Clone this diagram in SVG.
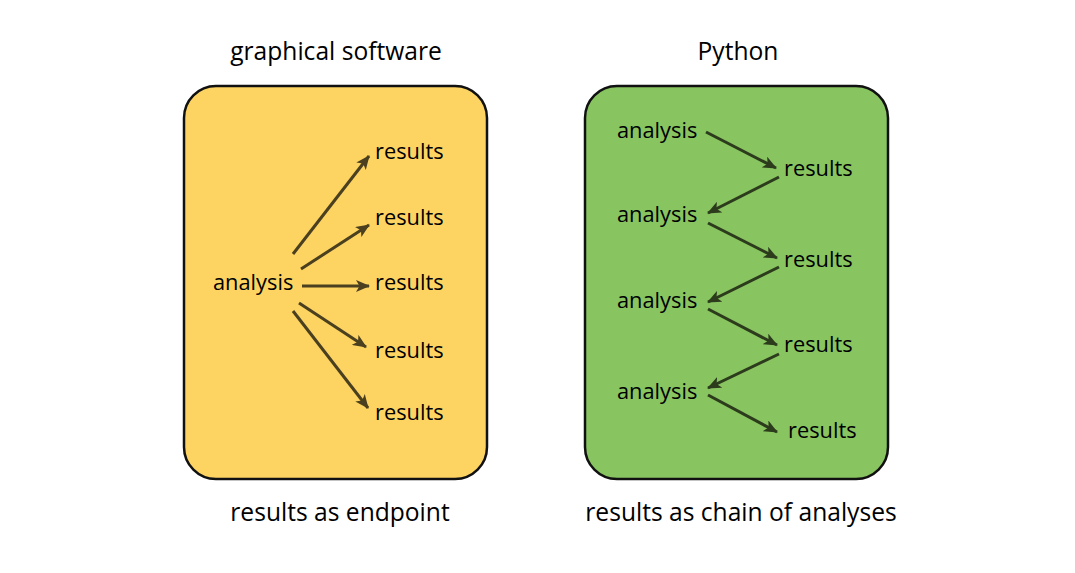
<svg xmlns="http://www.w3.org/2000/svg" width="1075" height="573" viewBox="0 0 1075 573">
<style>
text{font-family:"Open Sans","Noto Sans","DejaVu Sans",sans-serif;fill:#000}
.lbl{font-size:21.8px}
.ttl{font-size:24.6px;text-anchor:middle}
.box{stroke:#111;stroke-width:2.5}
.cy{stroke:#4a3f1e;stroke-width:3;fill:none}
.cg{stroke:#2c3b1c;stroke-width:3;fill:none}
</style>
<defs>
<marker id="ay" viewBox="0 0 14 12" refX="13" refY="6" markerWidth="14" markerHeight="12" markerUnits="userSpaceOnUse" orient="auto">
<path d="M0,0 L14,6 L0,12 L3.5,6 Z" fill="#4a3f1e"/>
</marker>
<marker id="ag" viewBox="0 0 14 12" refX="13" refY="6" markerWidth="14" markerHeight="12" markerUnits="userSpaceOnUse" orient="auto">
<path d="M0,0 L14,6 L0,12 L3.5,6 Z" fill="#2c3b1c"/>
</marker>
</defs>
<rect width="1075" height="573" fill="#fff"/>
<g id="titles">
<text class="ttl" x="336" y="60">graphical software</text>
<text class="ttl" x="738" y="60">Python</text>
<text class="ttl" x="340" y="521">results as endpoint</text>
<text class="ttl" x="741" y="521">results as chain of analyses</text>
</g>
<g id="box-graphical"><rect class="box" x="184" y="86" width="303" height="393" rx="32" fill="#fdd462"/></g>
<g id="box-python"><rect class="box" x="585" y="86" width="303" height="393" rx="32" fill="#88c460"/></g>
<g id="left-nodes">
<g id="l-analysis"><text class="lbl" x="213" y="290">analysis</text></g>
<g id="l-r1"><text class="lbl" x="375" y="159">results</text></g>
<g id="l-r2"><text class="lbl" x="375" y="225">results</text></g>
<g id="l-r3"><text class="lbl" x="375" y="290">results</text></g>
<g id="l-r4"><text class="lbl" x="375" y="358">results</text></g>
<g id="l-r5"><text class="lbl" x="375" y="420">results</text></g>
</g>
<g id="right-nodes">
<g id="r-a1"><text class="lbl" x="617" y="138">analysis</text></g>
<g id="r-r1"><text class="lbl" x="784" y="176">results</text></g>
<g id="r-a2"><text class="lbl" x="617" y="222">analysis</text></g>
<g id="r-r2"><text class="lbl" x="784" y="267">results</text></g>
<g id="r-a3"><text class="lbl" x="617" y="308">analysis</text></g>
<g id="r-r3"><text class="lbl" x="784" y="352">results</text></g>
<g id="r-a4"><text class="lbl" x="617" y="399">analysis</text></g>
<g id="r-r4"><text class="lbl" x="788" y="438">results</text></g>
</g>
<g id="connectors">
<line class="cy" x1="293" y1="254" x2="369" y2="156" marker-end="url(#ay)"/>
<line class="cy" x1="301" y1="269" x2="369" y2="225" marker-end="url(#ay)"/>
<line class="cy" x1="302" y1="286" x2="369" y2="286" marker-end="url(#ay)"/>
<line class="cy" x1="299" y1="303" x2="366" y2="347" marker-end="url(#ay)"/>
<line class="cy" x1="293" y1="311" x2="368" y2="408" marker-end="url(#ay)"/>
<line class="cg" x1="706" y1="132" x2="776" y2="168" marker-end="url(#ag)"/>
<line class="cg" x1="779" y1="177" x2="708" y2="213" marker-end="url(#ag)"/>
<line class="cg" x1="708" y1="223" x2="777" y2="258" marker-end="url(#ag)"/>
<line class="cg" x1="779" y1="267" x2="708" y2="302" marker-end="url(#ag)"/>
<line class="cg" x1="708" y1="309" x2="777" y2="345" marker-end="url(#ag)"/>
<line class="cg" x1="779" y1="354" x2="708" y2="388" marker-end="url(#ag)"/>
<line class="cg" x1="708" y1="395" x2="777" y2="432" marker-end="url(#ag)"/>
</g>
</svg>
